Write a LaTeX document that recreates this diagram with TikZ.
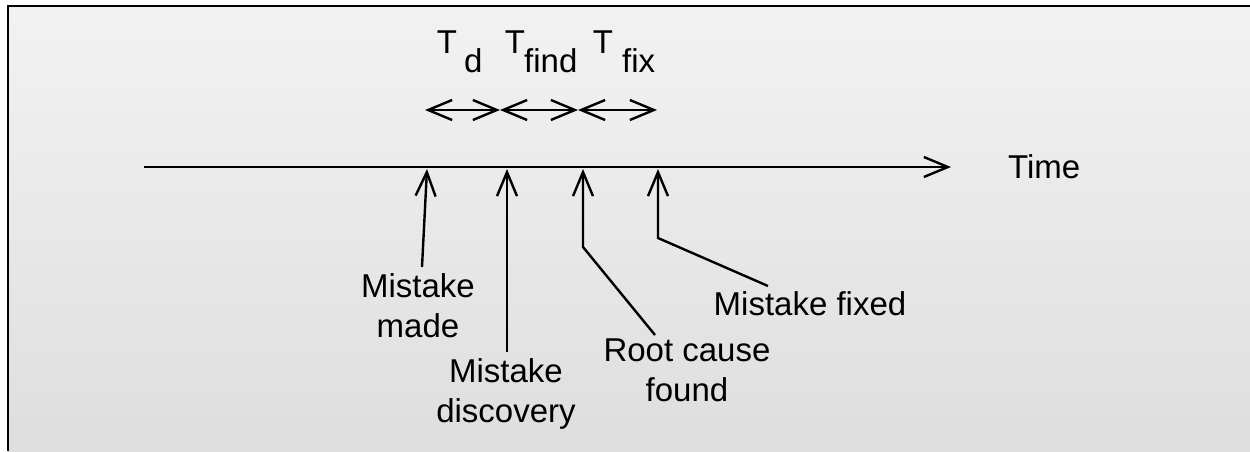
\documentclass[tikz,border=0pt]{standalone}
\usepackage{fontspec}
\setmainfont{Liberation Sans}
\usetikzlibrary{arrows.meta}
\tikzset{
  lbl/.style={font=\fontsize{33}{40}\selectfont, inner sep=0pt, text=black},
  lbox/.style={lbl, align=center, anchor=north},
  conn/.style={line width=2.4pt, black, line join=miter},
  barb/.style={-{Straight Barb[length=24pt,width=20pt,line width=2.4pt]}},
  dbarb/.style={{Straight Barb[length=24pt,width=20pt,line width=2.4pt]}-{Straight Barb[length=24pt,width=20pt,line width=2.4pt]}}
}
\begin{document}
\begin{tikzpicture}[x=1pt,y=-1pt]
\useasboundingbox (0,0) rectangle (1250,451);
\fill[white] (0,0) rectangle (1250,451);
\shade[top color=black!5, bottom color=black!13] (8,6) rectangle (1250,451);
\draw[line width=2.6pt, black] (8,451) -- (8,6) -- (1250,6);

% timeline
\coordinate (tl0) at (144,167);
\coordinate (tl1) at (951,167);
\draw[conn, barb] (tl0) -- (tl1);
\node[lbl, anchor=base west] (time) at (1008,178) {Time};

% interval labels
\node[lbl, anchor=base] (Td) at (447,53) {T};
\node[lbl, anchor=base west] (sd) at (464,72) {d};
\node[lbl, anchor=base] (Tfind) at (515,53) {T};
\node[lbl, anchor=base west] (sfind) at (524,72) {find};
\node[lbl, anchor=base] (Tfix) at (603,53) {T};
\node[lbl, anchor=base west] (sfix) at (622,72) {fix};

\coordinate (a0) at (425,110);
\coordinate (a1) at (500,110);
\coordinate (a2) at (578,110);
\coordinate (a3) at (657,110);
\draw[conn, dbarb] (a0) -- (a1);
\draw[conn, dbarb] (a1) -- (a2);
\draw[conn, dbarb] (a2) -- (a3);

% event points on the timeline
\coordinate (e1) at (427,169);
\coordinate (e2) at (507,169);
\coordinate (e3) at (583,169);
\coordinate (e4) at (658,169);

% event labels
\node[lbox] (mm) at (418,273) {Mistake\\made};
\node[lbox] (md) at (506,358) {Mistake\\discovery};
\node[lbox] (rc) at (687,339) {Root cause\\found};
\node[lbox] (mf) at (810,291) {Mistake fixed};

\draw[conn, barb] ([shift={(4,-6)}]mm.north) -- (e1);
\draw[conn, barb] ([shift={(1,-6)}]md.north) -- (e2);
\draw[conn, barb] ([shift={(-32,-4)}]rc.north) -- (583,247) -- (e3);
\draw[conn, barb] ([shift={(-42,-5)}]mf.north) -- (658,238) -- (e4);
\end{tikzpicture}
\end{document}
